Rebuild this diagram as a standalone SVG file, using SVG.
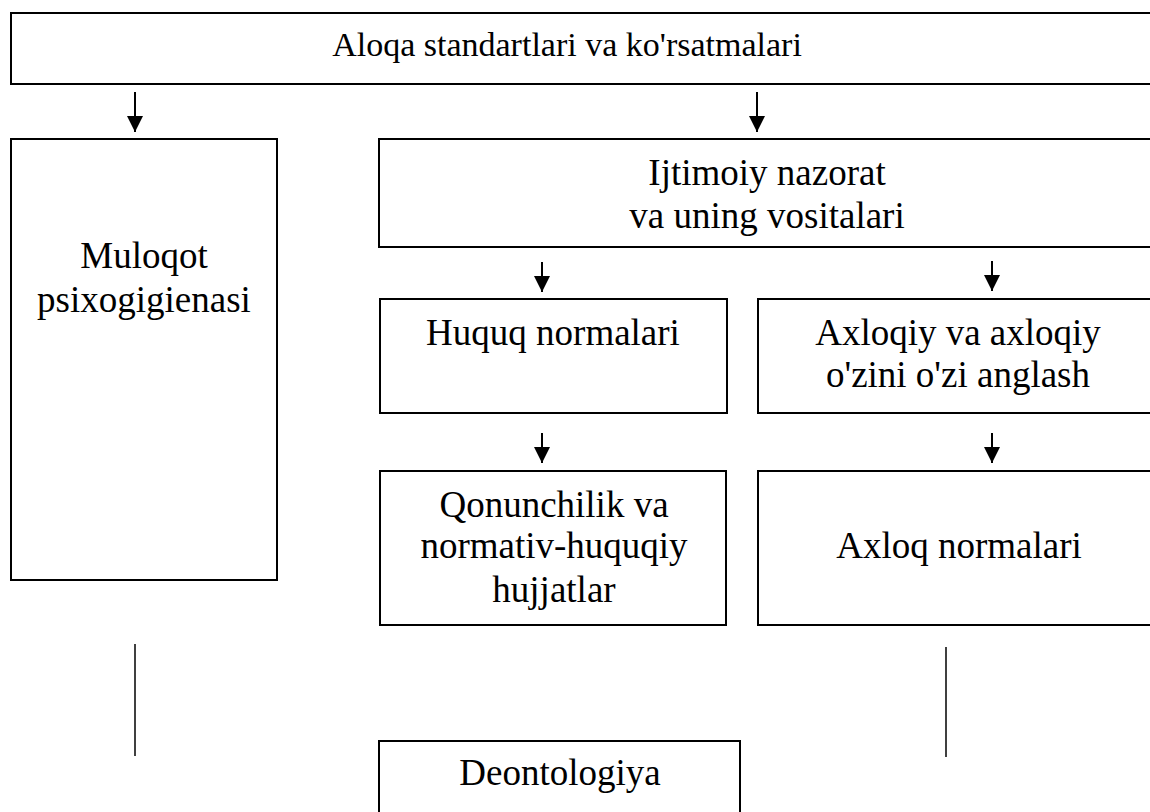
<svg xmlns="http://www.w3.org/2000/svg" width="1150" height="812" viewBox="0 0 1150 812">
  <style>
    .box { fill: #ffffff; stroke: #000000; stroke-width: 2; }
    .lbl { font-family: 'Liberation Serif', Tinos, 'Times New Roman', 'DejaVu Serif', serif; font-size: 37px; fill: #000000; text-anchor: middle; }
    .top { font-size: 34px; }
    .arrow { stroke: #000000; stroke-width: 2; fill: none; marker-end: url(#head); }
    .line { stroke: #000000; stroke-width: 1.5; fill: none; }
  </style>
  <defs>
    <marker id="head" markerUnits="userSpaceOnUse" markerWidth="17" markerHeight="17" refX="16" refY="8" orient="auto">
      <path d="M0,0 L16,8 L0,16 z" fill="#000000"/>
    </marker>
  </defs>
  <rect x="0" y="0" width="1150" height="812" fill="#ffffff"/>

  <g id="node-top">
    <rect class="box" x="11" y="13" width="1160" height="71"/>
    <text class="lbl top" x="567" y="56">Aloqa standartlari va ko'rsatmalari</text>
  </g>
  <g id="node-muloqot">
    <rect class="box" x="11" y="139" width="266" height="441"/>
    <text class="lbl" x="144" y="268">Muloqot</text>
    <text class="lbl" x="144" y="312">psixogigienasi</text>
  </g>
  <g id="node-ijtimoiy">
    <rect class="box" x="379" y="139" width="800" height="108"/>
    <text class="lbl" x="767" y="185">Ijtimoiy nazorat</text>
    <text class="lbl" x="767" y="228">va uning vositalari</text>
  </g>
  <g id="node-huquq">
    <rect class="box" x="380" y="299" width="347" height="114"/>
    <text class="lbl" x="553" y="345">Huquq normalari</text>
  </g>
  <g id="node-axloqiy">
    <rect class="box" x="758" y="299" width="500" height="114"/>
    <text class="lbl" x="958" y="345">Axloqiy va axloqiy</text>
    <text class="lbl" x="958" y="387">o'zini o'zi anglash</text>
  </g>
  <g id="node-qonunchilik">
    <rect class="box" x="380" y="471" width="346" height="154"/>
    <text class="lbl" x="554" y="517">Qonunchilik va</text>
    <text class="lbl" x="554" y="558">normativ-huquqiy</text>
    <text class="lbl" x="554" y="602">hujjatlar</text>
  </g>
  <g id="node-axloq">
    <rect class="box" x="758" y="471" width="500" height="154"/>
    <text class="lbl" x="959" y="558">Axloq normalari</text>
  </g>
  <g id="node-deontologiya">
    <rect class="box" x="379" y="741" width="361" height="120"/>
    <text class="lbl" x="560" y="785">Deontologiya</text>
  </g>

  <g id="connectors">
    <line class="arrow" x1="135" y1="92" x2="135" y2="132"/>
    <line class="arrow" x1="757" y1="92" x2="757" y2="132"/>
    <line class="arrow" x1="542" y1="262" x2="542" y2="292"/>
    <line class="arrow" x1="992" y1="261" x2="992" y2="291"/>
    <line class="arrow" x1="542" y1="433" x2="542" y2="463"/>
    <line class="arrow" x1="992" y1="433" x2="992" y2="463"/>
    <line class="line" x1="135" y1="644" x2="135" y2="756"/>
    <line class="line" x1="946" y1="647" x2="946" y2="757"/>
  </g>
</svg>
